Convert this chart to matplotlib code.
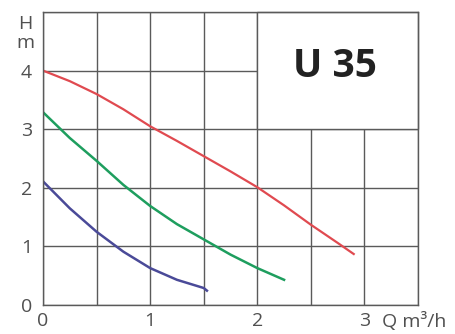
import numpy as np
import matplotlib.pyplot as plt
from matplotlib.patches import Rectangle

# pump curves: head H (m) against flow Q (m3/h)
q_red = [0, 0.25, 0.5, 0.75, 1.0, 1.25, 1.5, 1.75, 2.0, 2.25, 2.5, 2.75, 2.9]
h_red = [4.0, 3.82, 3.60, 3.34, 3.05, 2.80, 2.54, 2.28, 2.01, 1.70, 1.37, 1.06, 0.87]

q_green = [0, 0.25, 0.5, 0.75, 1.0, 1.25, 1.5, 1.75, 2.0, 2.25]
h_green = [3.29, 2.85, 2.46, 2.05, 1.69, 1.38, 1.12, 0.86, 0.63, 0.43]

q_blue = [0, 0.25, 0.5, 0.75, 1.0, 1.25, 1.5, 1.53]
h_blue = [2.11, 1.65, 1.25, 0.91, 0.63, 0.43, 0.29, 0.245]

x_ticks = np.arange(0, 3.51, 0.5)
x_labels = ['0', '', '1', '', '2', '', '3', '']
y_ticks = np.arange(0, 6, 1)
y_labels = ['0', '1', '2', '3', '4', '']

grid_col = '#5a5a5a'
text_col = '#505050'
font = 'Open Sans'

fig = plt.figure(figsize=(4.55, 3.34), dpi=100)
ax = fig.add_axes([43 / 455, 29 / 334, 375 / 455, 293 / 334])

ax.set_xlim(0, 3.5)
ax.set_ylim(0, 5)
ax.set_xticks(x_ticks)
ax.set_xticklabels(x_labels)
ax.set_yticks(y_ticks)
ax.set_yticklabels(y_labels)
ax.tick_params(length=0, labelsize=14, colors=text_col)
ax.tick_params(axis='y', pad=8)
ax.tick_params(axis='x', pad=5)
for lab in ax.get_xticklabels() + ax.get_yticklabels():
    lab.set_fontfamily(font)

ax.grid(True, color=grid_col, linewidth=1.0, zorder=1)
ax.set_axisbelow(True)
for s in ax.spines.values():
    s.set_color(grid_col)
    s.set_linewidth(1.0)

# blank panel for the model name
ax.add_patch(Rectangle((2, 3), 1.5, 2, facecolor='white', edgecolor=grid_col,
                       linewidth=1.0, zorder=1.5, clip_on=False))
ax.text(2.725, 4.07, 'U 35', ha='center', va='center', fontsize=28,
        fontweight='bold', family=font, color='#222222', zorder=3)

ax.plot(q_red, h_red, color='#e04a50', linewidth=1.6, zorder=2)
ax.plot(q_green, h_green, color='#1e9e5e', linewidth=1.8, zorder=2)
ax.plot(q_blue, h_blue, color='#4a4a98', linewidth=1.8, zorder=2)

fig.text(25.5 / 455, 1 - 29 / 334, 'H', ha='center', va='baseline',
         fontsize=14, family=font, color=text_col)
fig.text(25.5 / 455, 1 - 48 / 334, 'm', ha='center', va='baseline',
         fontsize=14, family=font, color=text_col)
fig.text(382 / 455, 1 - 327 / 334, 'Q m³/h', ha='left', va='baseline',
         fontsize=14, family=font, color=text_col)

fig.savefig('out.png', dpi=100)
